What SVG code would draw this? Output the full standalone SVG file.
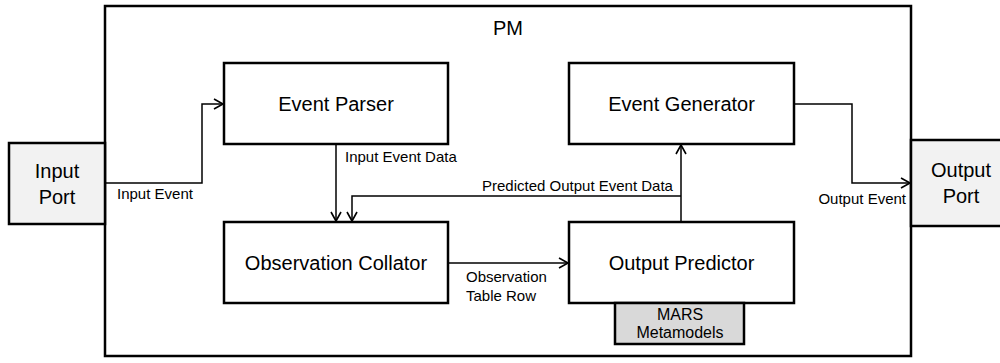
<svg xmlns="http://www.w3.org/2000/svg" width="1000" height="363" viewBox="0 0 1000 363">
  <defs>
    <marker id="open-arrow" markerWidth="12" markerHeight="12" refX="10" refY="6" orient="auto" markerUnits="userSpaceOnUse">
      <path d="M1,1 L10,6 L1,11" fill="none" stroke="#000" stroke-width="1.6"/>
    </marker>
  </defs>
  <style>
    .box { fill: #fff; stroke: #000; stroke-width: 2.5; }
    .port { fill: #f2f2f2; stroke: #000; stroke-width: 2.5; }
    .meta { fill: #d9d9d9; stroke: #000; stroke-width: 2.5; }
    .title { font-family: "Liberation Sans", Arial, sans-serif; font-size: 20px; fill: #000; text-anchor: middle; }
    .small { font-family: "Liberation Sans", Arial, sans-serif; font-size: 15px; fill: #000; }
    .meta-label { font-family: "Liberation Sans", Arial, sans-serif; font-size: 16px; fill: #000; text-anchor: middle; }
    .wire { fill: none; stroke: #000; stroke-width: 1.5; }
  </style>

  <!-- PM container -->
  <g id="pm">
    <rect class="box" x="105" y="6" width="806" height="350"/>
    <text class="title" x="508" y="35">PM</text>
  </g>

  <g id="input-port">
    <rect class="port" x="9" y="143" width="96" height="81"/>
    <text class="title" x="57" y="178">Input</text>
    <text class="title" x="57" y="204">Port</text>
  </g>

  <g id="output-port">
    <rect class="port" x="911" y="140" width="95" height="86"/>
    <text class="title" x="961" y="177">Output</text>
    <text class="title" x="961" y="203">Port</text>
  </g>

  <g id="event-parser">
    <rect class="box" x="224" y="63" width="224" height="81"/>
    <text class="title" x="336" y="111">Event Parser</text>
  </g>

  <g id="observation-collator">
    <rect class="box" x="224" y="222" width="224" height="81"/>
    <text class="title" x="336" y="270">Observation Collator</text>
  </g>

  <g id="event-generator">
    <rect class="box" x="569" y="63" width="225" height="81"/>
    <text class="title" x="681.5" y="111">Event Generator</text>
  </g>

  <g id="output-predictor">
    <rect class="box" x="569" y="222" width="225" height="81"/>
    <text class="title" x="681.5" y="270">Output Predictor</text>
  </g>

  <g id="mars-metamodels">
    <rect class="meta" x="615" y="303" width="129" height="41"/>
    <text class="meta-label" x="680" y="320">MARS</text>
    <text class="meta-label" x="680" y="338">Metamodels</text>
  </g>

  <!-- connectors -->
  <g id="connectors">
    <path class="wire" d="M105,183 H202 V104 H223" marker-end="url(#open-arrow)"/>
    <path class="wire" d="M336,144 V221" marker-end="url(#open-arrow)"/>
    <path class="wire" d="M681,222 V145" marker-end="url(#open-arrow)"/>
    <path class="wire" d="M681,196 H352 V221" marker-end="url(#open-arrow)"/>
    <path class="wire" d="M448,263 H568" marker-end="url(#open-arrow)"/>
    <path class="wire" d="M794,104 H852 V183 H910" marker-end="url(#open-arrow)"/>

    <text class="small" x="117" y="199">Input Event</text>
    <text class="small" x="345" y="162">Input Event Data</text>
    <text class="small" x="482" y="191">Predicted Output Event Data</text>
    <text class="small" x="466" y="282">Observation</text>
    <text class="small" x="466" y="301">Table Row</text>
    <text class="small" x="906" y="204" text-anchor="end">Output Event</text>
  </g>
</svg>
